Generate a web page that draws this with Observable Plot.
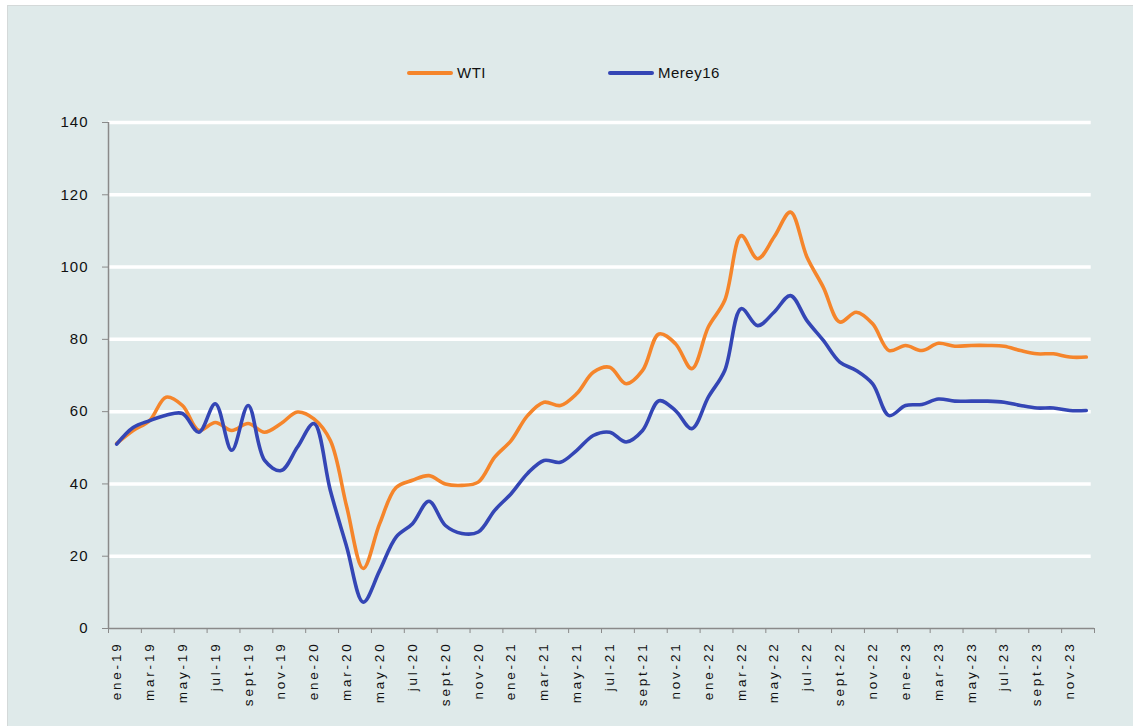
<!DOCTYPE html>
<html><head><meta charset="utf-8">
<script src="https://cdn.jsdelivr.net/npm/d3@7"></script>
<script src="https://cdn.jsdelivr.net/npm/@observablehq/plot@0.6"></script>
<style>
html,body{margin:0;padding:0;background:#fff;width:1133px;height:726px;overflow:hidden;font-family:"Liberation Sans",Arial,sans-serif;}
#bg{position:absolute;left:7px;top:5px;right:0;bottom:0;background:#dfeaea;border-top:1px solid #d4d9d9;border-left:1px solid #d4d9d9;}
#chart{position:absolute;left:0;top:0;}
.leg{position:absolute;top:64px;font-size:15px;color:#111;letter-spacing:0.5px;display:flex;align-items:center;}
.leg span.sw{display:inline-block;width:46px;height:4px;border-radius:2px;margin-right:4px;}
#chart g.xlab text{letter-spacing:2.8px;}
#chart g.ylab text{letter-spacing:1px;}
</style></head>
<body>
<div id="bg"></div>
<div id="chart"></div>
<div class="leg" style="left:407px"><span class="sw" style="background:#f5852b"></span>WTI</div>
<div class="leg" style="left:608px"><span class="sw" style="background:#3446b5"></span>Merey16</div>
<script>
const months = [
 "ene-19","feb-19","mar-19","abr-19","may-19","jun-19","jul-19","ago-19","sept-19","oct-19","nov-19","dic-19",
 "ene-20","feb-20","mar-20","abr-20","may-20","jun-20","jul-20","ago-20","sept-20","oct-20","nov-20","dic-20",
 "ene-21","feb-21","mar-21","abr-21","may-21","jun-21","jul-21","ago-21","sept-21","oct-21","nov-21","dic-21",
 "ene-22","feb-22","mar-22","abr-22","may-22","jun-22","jul-22","ago-22","sept-22","oct-22","nov-22","dic-22",
 "ene-23","feb-23","mar-23","abr-23","may-23","jun-23","jul-23","ago-23","sept-23","oct-23","nov-23","dic-23"];
const wti = [
 51.2,54.8,57.5,64.0,61.7,54.8,57.0,54.8,56.7,54.3,56.7,59.9,
 58.0,52.0,33.6,16.6,29.0,39.0,41.0,42.3,40.0,39.6,40.5,47.4,
 52.0,58.9,62.6,61.7,65.0,70.9,72.3,67.7,71.4,81.5,78.8,71.9,
 83.4,90.8,108.7,102.3,108.3,115.2,102.8,94.4,84.8,87.5,84.3,76.9,
 78.3,76.9,78.9,78.1,78.3,78.3,78.1,76.9,76.0,76.0,75.1,75.1];
const merey = [
 51.0,55.6,57.5,59.0,59.5,54.3,62.2,49.3,61.7,46.5,43.7,50.2,
 56.7,38.2,22.5,7.3,16.0,25.3,29.0,35.2,28.5,26.3,26.7,32.7,
 37.3,42.9,46.5,46.0,49.3,53.4,54.3,51.6,54.8,63.0,60.3,55.3,
 64.0,71.4,88.5,83.8,87.5,92.1,85.2,79.7,73.7,71.4,67.7,58.9,
 61.7,62.0,63.5,62.9,62.9,62.9,62.6,61.7,61.0,61.0,60.3,60.3];
const yTicks = [0,20,40,60,80,100,120,140];

const rows = months.flatMap((m,i)=>[
  {i: i+0.5, v: wti[i], s:"WTI"},
  {i: i+0.5, v: merey[i], s:"Merey16"}]);
const labelPos = months.map((m,i)=>i).filter(i=>i%2===0);
const tickPos = labelPos.concat([months.length]);

const chart = Plot.plot({
  width:1133, height:726,
  marginLeft:108, marginRight:39, marginTop:122, marginBottom:98,
  style:{background:"transparent", fontFamily:"Liberation Sans, Arial, sans-serif"},
  x:{type:"linear", domain:[0, months.length]},
  y:{domain:[0,140]},
  color:{domain:["WTI","Merey16"], range:["#f5852b","#3446b5"]},
  marks:[
    Plot.ruleY(yTicks.filter(d=>d>0), {x1:0, x2:months.length-0.2, stroke:"#ffffff", strokeWidth:3.5}),
    Plot.line(rows, {x:"i", y:"v", z:"s", stroke:"s", strokeWidth:3.6, curve:"catmull-rom"}),
    Plot.ruleX([0], {stroke:"#8a8a8a", strokeWidth:1.5}),
    Plot.ruleY([0], {stroke:"#8a8a8a", strokeWidth:1.5}),
    Plot.axisY({ticks:yTicks, tickSize:6, tickPadding:14, stroke:"#8a8a8a", fontSize:15, fill:"#111", label:null, className:"ylab"}),
    Plot.axisX({ticks:tickPos, tickSize:5, tickFormat:()=>"", stroke:"#8a8a8a", label:null}),
    Plot.axisX({ticks:labelPos.map(i=>i+0.5), tickSize:0, tickPadding:13, tickRotate:-90,
      tickFormat:d=>months[Math.round(d-0.5)], fontSize:13.5, fill:"#111", label:null, className:"xlab"})
  ]
});
document.getElementById("chart").appendChild(chart);
// ensure letter-spacing reaches the tick label texts
d3.select(chart).selectAll('g[aria-label="x-axis tick label"] text').style("letter-spacing","2.8px");
d3.select(chart).selectAll('g[aria-label="y-axis tick label"] text').style("letter-spacing","1px");
</script>
</body></html>
